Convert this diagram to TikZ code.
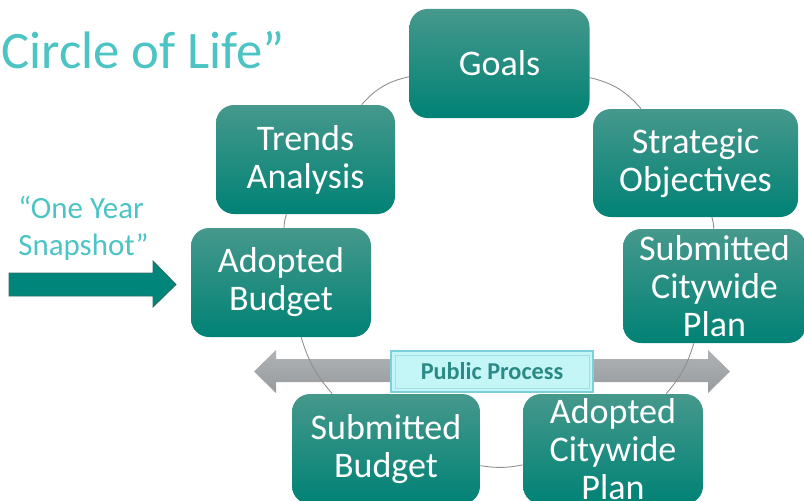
\documentclass[tikz,border=0pt]{standalone}
\usepackage{fontspec}
\setmainfont{Carlito}
\usetikzlibrary{backgrounds}
\definecolor{boxtop}{HTML}{46988C}
\definecolor{boxmid}{HTML}{00897A}
\definecolor{boxbot}{HTML}{008275}
\definecolor{circline}{HTML}{8E8E8E}
\definecolor{titlecol}{HTML}{4CC4C4}
\definecolor{graytop}{HTML}{B0B3B6}
\definecolor{graybot}{HTML}{989B9E}
\definecolor{snapfill}{HTML}{00857A}
\definecolor{snapline}{HTML}{2E6E66}
\definecolor{ppfill}{HTML}{C4F6F8}
\definecolor{ppline}{HTML}{7CCFDD}
\definecolor{pptext}{HTML}{2B8A86}

\begin{document}
\begin{tikzpicture}[scale=0.2,
  stage/.style={rounded corners=0.36cm, top color=boxtop, middle color=boxmid,
    bottom color=boxbot, text=white, align=center, inner sep=0pt,
    font=\fontsize{20.5}{21.6}\selectfont},
  cycleline/.style={draw=circline, line width=0.5pt},
  bigtext/.style={text=titlecol, inner sep=0pt}]
\useasboundingbox (0,0) rectangle (80.4,-50);
\node [bigtext, anchor=base west, font=\fontsize{30}{32}\selectfont] (title) at (0.1,-6.8) {Circle of Life”};
\node [bigtext, anchor=west, align=left, font=\fontsize{17.6}{21}\selectfont] (snap) at (1.8,-22.8) {“One Year\\Snapshot”};
\draw [snapline, fill=snapfill, line width=0.5pt] (0.9,-27.3) -- (15.3,-27.3) -- (15.3,-26.1) -- (17.6,-28.45) -- (15.3,-30.7) -- (15.3,-29.6) -- (0.9,-29.6) -- cycle;
\node [stage, minimum width=3.6cm, minimum height=2.18cm] (goals) at (49.95,-6.35) {Goals};
\node [stage, minimum width=4.1cm, minimum height=2.16cm] (strat) at (69.55,-16.3) {Strategic\\Objectives};
\node [stage, minimum width=3.66cm, minimum height=2.28cm] (subcw) at (71.45,-28.6) {Submitted\\Citywide\\Plan};
\node [stage, minimum width=3.6cm, minimum height=2.2cm] (adcw) at (61.3,-44.9) {Adopted\\Citywide\\Plan};
\node [stage, minimum width=3.76cm, minimum height=2.2cm] (subbud) at (38.6,-44.9) {Submitted\\Budget};
\node [stage, minimum width=3.6cm, minimum height=2.18cm] (adbud) at (28.1,-28.25) {Adopted\\Budget};
\node [stage, minimum width=3.58cm, minimum height=2.18cm] (trends) at (30.55,-15.95) {Trends\\Analysis};
\begin{scope}[on background layer]
\shade [top color=graytop, bottom color=graybot] (25.4,-37.15) -- (27.6,-35.0) -- (27.6,-35.9) -- (70.8,-35.9) -- (70.8,-35.0) -- (73.0,-37.15) -- (70.8,-39.3) -- (70.8,-38.2) -- (27.6,-38.2) -- (27.6,-39.3) -- cycle;
\draw [cycleline] (goals) to [bend left=18] (strat);
\draw [cycleline] (strat) to [bend left=8] (subcw);
\draw [cycleline] (subcw) to [bend left=12] (adcw);
\draw [cycleline] (adcw) to [bend left=10] (subbud);
\draw [cycleline] (subbud) to [bend left=12] (adbud);
\draw [cycleline] (adbud) to [bend left=8] (trends);
\draw [cycleline] (trends) to [bend left=18] (goals);
\end{scope}
\node [draw=ppline, fill=ppfill, line width=1pt, minimum width=4.04cm, minimum height=0.82cm, inner sep=0pt,
  text=pptext, font=\fontsize{13.8}{15}\selectfont\bfseries] (public) at (49.2,-37.15) {Public Process};
\draw [ppline!70!white, line width=0.4pt] ([shift={(0.5,0.5)}]public.south west) rectangle ([shift={(-0.5,-0.5)}]public.north east);
\end{tikzpicture}
\end{document}
